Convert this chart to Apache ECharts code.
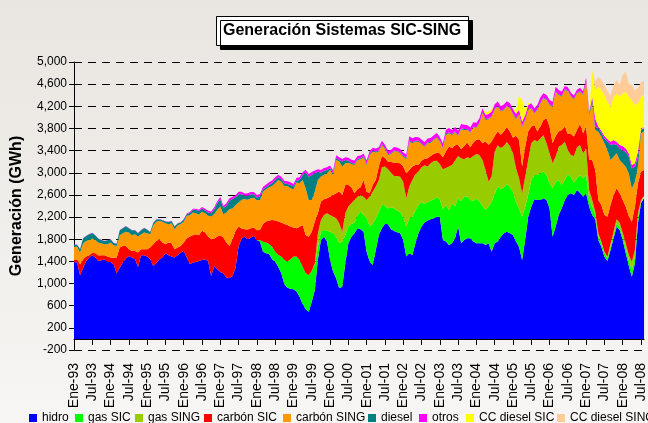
<!DOCTYPE html>
<html><head><meta charset="utf-8">
<script src="https://cdn.jsdelivr.net/npm/echarts@6/dist/echarts.min.js"></script>
<style>html,body{margin:0;padding:0;background:#f0eeeb}#c{width:648px;height:423px}</style>
</head><body><div id="c"></div><script>
const categories = [
'Ene-93','Feb-93','Mar-93','Abr-93','May-93','Jun-93','Jul-93','Ago-93','Sep-93','Oct-93','Nov-93','Dic-93',
'Ene-94','Feb-94','Mar-94','Abr-94','May-94','Jun-94','Jul-94','Ago-94','Sep-94','Oct-94','Nov-94','Dic-94',
'Ene-95','Feb-95','Mar-95','Abr-95','May-95','Jun-95','Jul-95','Ago-95','Sep-95','Oct-95','Nov-95','Dic-95',
'Ene-96','Feb-96','Mar-96','Abr-96','May-96','Jun-96','Jul-96','Ago-96','Sep-96','Oct-96','Nov-96','Dic-96',
'Ene-97','Feb-97','Mar-97','Abr-97','May-97','Jun-97','Jul-97','Ago-97','Sep-97','Oct-97','Nov-97','Dic-97',
'Ene-98','Feb-98','Mar-98','Abr-98','May-98','Jun-98','Jul-98','Ago-98','Sep-98','Oct-98','Nov-98','Dic-98',
'Ene-99','Feb-99','Mar-99','Abr-99','May-99','Jun-99','Jul-99','Ago-99','Sep-99','Oct-99','Nov-99','Dic-99',
'Ene-00','Feb-00','Mar-00','Abr-00','May-00','Jun-00','Jul-00','Ago-00','Sep-00','Oct-00','Nov-00','Dic-00',
'Ene-01','Feb-01','Mar-01','Abr-01','May-01','Jun-01','Jul-01','Ago-01','Sep-01','Oct-01','Nov-01','Dic-01',
'Ene-02','Feb-02','Mar-02','Abr-02','May-02','Jun-02','Jul-02','Ago-02','Sep-02','Oct-02','Nov-02','Dic-02',
'Ene-03','Feb-03','Mar-03','Abr-03','May-03','Jun-03','Jul-03','Ago-03','Sep-03','Oct-03','Nov-03','Dic-03',
'Ene-04','Feb-04','Mar-04','Abr-04','May-04','Jun-04','Jul-04','Ago-04','Sep-04','Oct-04','Nov-04','Dic-04',
'Ene-05','Feb-05','Mar-05','Abr-05','May-05','Jun-05','Jul-05','Ago-05','Sep-05','Oct-05','Nov-05','Dic-05',
'Ene-06','Feb-06','Mar-06','Abr-06','May-06','Jun-06','Jul-06','Ago-06','Sep-06','Oct-06','Nov-06','Dic-06',
'Ene-07','Feb-07','Mar-07','Abr-07','May-07','Jun-07','Jul-07','Ago-07','Sep-07','Oct-07','Nov-07','Dic-07',
'Ene-08','Feb-08','Mar-08','Abr-08','May-08','Jun-08','Jul-08','Ago-08'
];

const hidro = [
1390,1378,1148,1287,1408,1468,1510,1468,1408,1420,1438,1390,
1390,1347,1184,1287,1378,1450,1498,1468,1438,1305,1510,1510,
1486,1438,1317,1365,1438,1468,1547,1510,1486,1468,1510,1559,
1589,1468,1347,1378,1390,1408,1426,1438,1408,1136,1317,1257,
1208,1184,1106,1100,1136,1287,1679,1812,1849,1795,1830,1860,
1780,1757,1576,1546,1534,1437,1395,1305,1185,992,926,908,
896,854,763,631,534,492,673,884,1425,1787,1847,1757,
1425,1215,1094,914,944,1365,1727,1847,1907,1997,1979,1937,
1576,1395,1335,1606,1877,2000,2080,2070,1979,1949,1925,1907,
1787,1486,1546,1516,1727,1907,2028,2100,2136,2160,2178,2208,
2208,1787,1757,1697,1727,1817,2028,1727,1787,1817,1817,1757,
1727,1727,1727,1697,1727,1576,1727,1757,1847,1907,1937,1907,
1877,1760,1660,1425,1786,2208,2388,2521,2509,2509,2539,2509,
2358,1846,2027,2238,2358,2509,2599,2629,2599,2689,2641,2569,
2629,2388,2238,2159,1786,1666,1485,1407,1606,1816,2027,1967,
1786,1545,1316,1124,1365,2088,2448,2539
];
const gasSIC = [
0,0,0,0,0,0,0,0,0,0,0,0,
0,0,0,0,0,0,0,0,0,0,0,0,
0,0,0,0,0,0,0,0,0,0,0,0,
0,0,0,0,0,0,0,0,0,0,0,0,
0,0,0,0,0,0,0,0,0,0,0,0,
0,30,180,193,181,229,181,211,301,433,470,530,
590,632,662,674,650,662,560,452,241,151,120,199,
512,692,753,813,813,512,301,229,193,241,319,301,
602,644,740,572,421,421,331,283,397,409,391,391,
409,542,632,692,590,512,445,337,337,337,343,349,
313,554,662,632,722,572,512,765,783,753,692,740,
807,759,674,632,662,897,891,1005,855,831,861,831,
783,710,700,783,602,391,482,439,452,482,482,452,
452,873,813,632,421,361,379,301,223,211,319,331,
331,120,151,78,60,60,60,48,60,60,60,60,
60,90,108,120,120,90,30,18
];
const gasSING = [
0,0,0,0,0,0,0,0,0,0,0,0,
0,0,0,0,0,0,0,0,0,0,0,0,
0,0,0,0,0,0,0,0,0,0,0,0,
0,0,0,0,0,0,0,0,0,0,0,0,
0,0,0,0,0,0,0,0,0,0,0,0,
0,0,0,0,0,0,0,0,0,0,0,0,
0,0,0,0,0,0,0,30,241,211,271,313,
301,301,331,361,181,391,361,373,409,331,301,331,
331,530,584,572,572,680,700,710,626,584,626,632,
644,512,572,662,662,602,626,698,638,674,692,662,
638,722,668,783,692,831,765,771,674,710,753,807,
807,837,831,722,452,458,765,734,746,746,759,746,
692,610,540,421,542,632,662,632,602,632,662,572,
542,452,452,602,722,692,433,391,482,560,542,452,
482,181,120,60,60,30,30,30,48,60,72,72,
72,90,90,150,120,90,30,24
];
const carbonSIC = [
30,60,200,150,78,42,48,78,100,90,72,97,
78,120,284,362,302,230,120,120,150,254,109,109,
133,211,393,405,362,272,163,230,242,151,139,121,
151,344,501,495,501,465,525,483,441,664,495,592,
664,646,634,580,664,664,350,181,133,180,169,151,
181,181,319,379,421,482,560,602,614,650,662,590,
524,512,602,752,692,692,704,752,361,331,283,271,
331,391,452,572,662,512,391,289,120,132,138,301,
150,60,120,120,241,200,157,138,193,241,235,241,
271,452,301,241,163,120,120,120,151,132,126,144,
193,217,295,361,301,277,199,163,241,265,199,241,
253,283,301,512,662,632,280,250,240,260,270,260,
280,590,690,482,542,512,301,271,181,211,271,452,
482,361,370,271,271,271,289,379,349,313,379,361,
391,542,722,752,602,662,662,722,704,662,560,530,
590,662,704,722,783,542,512,470
];
const carbonSING = [
242,224,211,290,284,278,254,242,230,217,199,223,
272,223,211,223,230,254,302,284,302,290,272,302,
290,242,344,344,332,374,380,332,362,362,405,393,
374,411,387,411,380,374,344,350,374,411,441,483,
519,423,544,664,556,465,435,519,544,540,540,540,
544,542,584,584,602,614,674,752,740,686,704,692,
692,825,783,813,843,662,572,542,602,452,439,452,
482,361,602,542,512,391,403,421,512,530,506,409,
482,692,602,494,271,200,163,120,144,205,205,181,
181,253,512,421,421,421,301,217,271,241,253,271,
211,163,301,241,241,241,163,361,289,229,265,277,
217,289,542,391,464,452,482,452,421,391,373,421,
421,301,460,722,482,391,331,211,391,421,391,331,
391,662,800,662,602,662,777,674,674,662,584,692,
813,813,1023,722,1234,1234,1294,1204,813,692,632,602,
662,722,771,602,452,301,692,692
];
const diesel = [
40,40,60,90,90,100,100,80,70,60,60,70,
60,40,40,90,90,100,80,90,70,60,70,80,
60,40,40,40,30,30,30,40,40,50,30,30,
40,30,40,50,60,60,60,50,60,60,90,120,
130,110,120,150,170,140,150,100,60,70,70,60,
50,60,42,36,42,48,60,48,42,48,36,60,
48,36,60,90,289,421,452,331,150,72,78,60,
30,30,30,30,90,60,36,24,24,24,20,20,
24,20,20,20,20,18,15,15,15,12,12,15,
15,20,25,20,15,15,12,12,15,15,12,12,
15,15,20,15,15,12,12,15,15,12,12,12,
12,12,15,15,15,12,12,12,12,12,12,12,
12,18,12,12,12,12,12,12,12,12,12,12,
12,12,12,12,12,12,12,12,12,12,12,12,
12,30,60,60,60,72,90,150,271,229,150,211,
229,271,301,361,271,181,60,60
];
const otros = [
5,5,5,5,5,5,5,5,5,5,5,5,
5,5,5,5,5,5,5,5,5,5,5,5,
5,5,5,5,5,5,5,5,5,5,5,5,
10,10,15,15,20,25,25,30,30,30,35,35,
40,40,45,45,40,40,45,45,40,45,45,40,
45,45,45,50,48,50,50,48,45,48,50,48,
48,50,50,48,48,50,52,48,45,48,50,48,
48,50,55,50,48,48,50,52,55,50,48,50,
55,52,50,55,60,60,58,60,62,65,60,62,
60,65,70,72,70,65,68,70,72,70,75,72,
70,72,75,78,72,75,78,80,78,75,80,78,
80,78,75,80,78,80,82,78,80,85,80,78,
80,78,78,78,78,78,78,78,78,96,78,78,
78,78,78,78,78,60,55,60,55,50,60,55,
60,30,60,150,30,36,42,42,60,72,60,60,
84,60,60,60,60,90,30,30
];
const ccDieselSIC = [
0,0,0,0,0,0,0,0,0,0,0,0,
0,0,0,0,0,0,0,0,0,0,0,0,
0,0,0,0,0,0,0,0,0,0,0,0,
0,0,0,0,0,0,0,0,0,0,0,0,
0,0,0,0,0,0,0,0,0,0,0,0,
0,0,0,0,0,0,0,0,0,0,0,0,
0,0,0,0,0,0,0,0,0,0,0,0,
0,0,0,0,0,0,0,0,0,0,0,0,
0,0,0,0,0,0,0,0,0,0,0,0,
0,0,0,0,0,0,0,0,0,0,0,0,
0,0,0,0,0,0,0,0,0,0,0,0,
0,0,0,40,50,30,0,0,0,0,0,0,
0,60,250,390,90,30,0,0,0,0,0,0,
0,0,0,0,0,0,0,0,0,0,0,0,
0,0,482,512,722,734,740,680,632,771,873,873,
951,1023,1023,1174,1054,873,572,572
];
const ccDieselSING = [
0,0,0,0,0,0,0,0,0,0,0,0,
0,0,0,0,0,0,0,0,0,0,0,0,
0,0,0,0,0,0,0,0,0,0,0,0,
0,0,0,0,0,0,0,0,0,0,0,0,
0,0,0,0,0,0,0,0,0,0,0,0,
0,0,0,0,0,0,0,0,0,0,0,0,
0,0,0,0,0,0,0,0,0,0,0,0,
0,0,0,0,0,0,0,0,0,0,0,0,
0,0,0,0,0,0,0,0,0,0,0,0,
0,0,0,0,0,0,0,0,0,0,0,0,
0,0,0,0,0,0,0,0,0,0,0,0,
0,0,0,0,0,0,0,0,0,0,0,0,
0,0,0,0,0,0,0,0,0,0,0,0,
0,0,0,0,0,0,0,0,0,0,0,0,
0,0,0,150,180,180,180,200,200,220,240,220,
330,360,240,270,260,280,260,260
];

const seriesNames = ['hidro','gas SIC','gas SING','carbón SIC','carbón SING','diesel','otros','CC diesel SIC','CC diesel SING'];
const seriesData = [hidro, gasSIC, gasSING, carbonSIC, carbonSING, diesel, otros, ccDieselSIC, ccDieselSING];
const seriesColors = ['#0000FF','#00FF00','#99CC00','#FF0000','#FF9900','#008080','#FF00FF','#FFFF00','#FFCC99'];
const legendLeft = [29, 75, 135, 204, 283, 368, 419, 466, 557];

const FONT = "'Liberation Sans', Arial, sans-serif";

const chart = echarts.init(document.getElementById('c'), null, {renderer: 'canvas'});
const option = {
  animation: false,
  backgroundColor: {type: 'linear', x: 0, y: 0, x2: 0, y2: 1,
    colorStops: [{offset: 0, color: '#E9E5E0'}, {offset: 1, color: '#F7F6F4'}]},
  title: {
    text: 'Generación Sistemas SIC-SING',
    left: 216, top: 16,
    padding: [7, 7, 7, 7],
    backgroundColor: '#FFFFFF',
    borderColor: '#000000', borderWidth: 1,
    shadowColor: '#000000', shadowBlur: 0, shadowOffsetX: 4, shadowOffsetY: 4,
    textStyle: {fontFamily: FONT, fontWeight: 'bold', fontSize: 16, color: '#000'}
  },
  grid: {left: 74, right: 0, top: 62, bottom: 73, containLabel: false},
  xAxis: {
    type: 'category', boundaryGap: false, data: categories,
    axisLine: {onZero: true, lineStyle: {color: '#000', width: 1}},
    axisTick: {show: true, interval: 5, length: 6, lineStyle: {color: '#000'}},
    axisLabel: {interval: 5, rotate: 90, margin: 13, fontSize: 14, fontFamily: FONT, color: '#000'},
    splitLine: {show: false}
  },
  yAxis: {
    type: 'value', min: -200, max: 5000, interval: 400,
    name: 'Generación (GWh)', nameLocation: 'middle', nameGap: 49,
    nameTextStyle: {fontFamily: FONT, fontWeight: 'bold', fontSize: 16, color: '#000'},
    axisLine: {show: true, lineStyle: {color: '#000', width: 1}},
    axisTick: {show: true, length: 5, lineStyle: {color: '#000'}},
    axisLabel: {margin: 7, fontSize: 12, fontFamily: FONT, color: '#000',
      formatter: v => v.toLocaleString('en-US')},
    splitLine: {show: true, lineStyle: {color: '#000', width: 1, type: [8, 6]}}
  },
  legend: seriesNames.map((n, i) => ({
    data: [n], left: legendLeft[i], top: 412, padding: 0, itemGap: 0,
    itemWidth: 8, itemHeight: 8, icon: 'rect', selectedMode: false,
    textStyle: {fontSize: 12, fontFamily: FONT, color: '#000'}
  })),
  series: seriesNames.map((n, i) => ({
    name: n, type: 'line', stack: 'total', data: seriesData[i],
    symbol: 'none', showSymbol: false, smooth: false,
    lineStyle: {width: 0, color: seriesColors[i]},
    itemStyle: {color: seriesColors[i]},
    areaStyle: {color: seriesColors[i], opacity: 1},
    emphasis: {disabled: true}
  }))
};
chart.setOption(option);
</script></body></html>
